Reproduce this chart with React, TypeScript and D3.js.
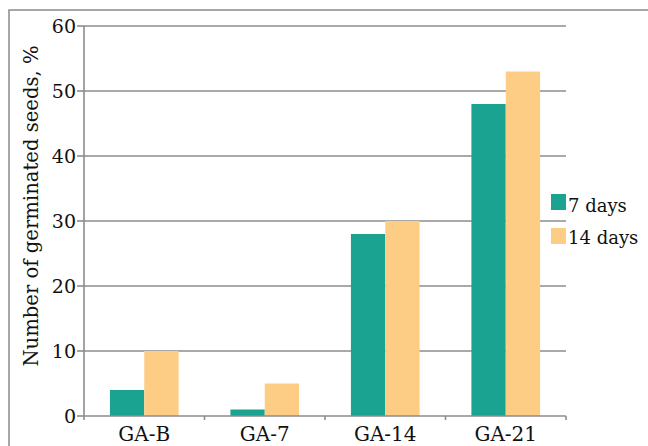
import React from 'react'
import * as d3 from 'd3'

const categories = ['GA-B', 'GA-7', 'GA-14', 'GA-21']
const seriesNames = ['7 days', '14 days']
const days7 = [4, 1, 28, 48]
const days14 = [10, 5, 30, 53]
const yTicks = [0, 10, 20, 30, 40, 50, 60]

const colours = ['#1ba392', '#fdcd85']
const font = 'DejaVu Serif, serif'

export default function App() {
  const width = 648
  const height = 446
  const left = 84
  const right = 566
  const top = 26
  const bottom = 416

  const values = [days7, days14]

  const x0 = d3.scaleBand().domain(categories).range([left, right]).padding(0)
  const x1 = d3.scaleBand().domain(seriesNames).range([0, x0.bandwidth()]).paddingInner(0).paddingOuter(0.755)
  const y = d3.scaleLinear().domain([0, 60]).range([bottom, top])

  const bars = categories.flatMap((c, i) =>
    seriesNames.map((s, j) => {
      const v = values[j][i]
      return <rect
        key={`bar_${i}_${j}`}
        x={(x0(c) || 0) + (x1(s) || 0)}
        y={y(v)}
        width={x1.bandwidth()}
        height={y(0) - y(v)}
        fill={colours[j]} />
    })
  )

  const catTicks = [left, ...categories.map(c => (x0(c) || 0) + x0.bandwidth())]
  const txt = (size: number) => ({ fontFamily: font, fontSize: size, fill: '#111' })

  return (
    <svg width={width} height={height} style={{ position: 'absolute', left: 0, top: 0, background: '#fff' }}>
      <rect x={9} y={10} width={700} height={500} fill="#fff" stroke="#8a8a8a" strokeWidth={1.5} />
      {yTicks.filter(t => t > 0).map(t =>
        <line key={`grid_${t}`} x1={left} x2={right} y1={y(t)} y2={y(t)} stroke="#8c8c8c" strokeWidth={1.6} />
      )}
      {bars}
      <line x1={left} x2={left} y1={top} y2={bottom} stroke="#8c8c8c" strokeWidth={1.6} />
      <line x1={left} x2={right} y1={bottom} y2={bottom} stroke="#8c8c8c" strokeWidth={1.6} />
      {yTicks.map(t =>
        <g key={`yt_${t}`}>
          <line x1={left - 7} x2={left} y1={y(t)} y2={y(t)} stroke="#8c8c8c" strokeWidth={1.6} />
          <text x={76} y={y(t)} dy="0.36em" textAnchor="end" style={txt(19)}>{t}</text>
        </g>
      )}
      {catTicks.map((t, i) =>
        <line key={`xt_${i}`} x1={t} x2={t} y1={bottom} y2={bottom + 4} stroke="#8c8c8c" strokeWidth={1.6} />
      )}
      {categories.map(c =>
        <text key={`xl_${c}`} x={(x0(c) || 0) + x0.bandwidth() / 2} y={441} textAnchor="middle" style={txt(20)}>{c}</text>
      )}
      <text transform="translate(38,206) rotate(-90)" textAnchor="middle" style={txt(19.6)}>Number of germinated seeds, %</text>
      {seriesNames.map((s, j) =>
        <g key={`leg_${s}`}>
          <rect x={551} y={194 + j * 34} width={15} height={16} fill={colours[j]} />
          <text x={568} y={212 + j * 32} style={txt(18)}>{s}</text>
        </g>
      )}
    </svg>
  )
}
